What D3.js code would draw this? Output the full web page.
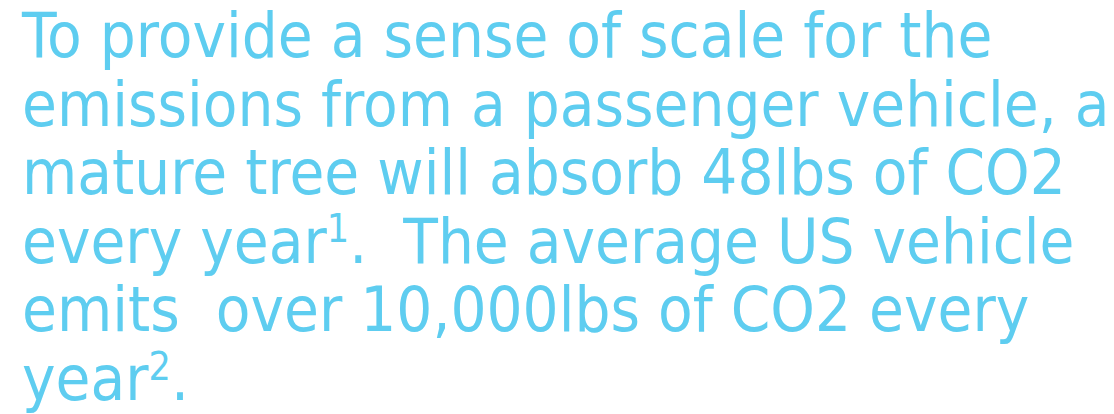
<html>
<head>
    <style>
        body { margin: 0; background: #fff; }
    </style>
</head>
<body>
    <div id="texto"></div>
    <script src="https://d3js.org/d3.v7.min.js"></script>
    <script>
        // Linhas do texto (sup = número sobrescrito)
        const lines = [
            [{t: "To provide a sense of scale for the"}],
            [{t: "emissions from a passenger vehicle, a"}],
            [{t: "mature tree will absorb 48lbs of CO2"}],
            [{t: "every year"}, {t: "1", sup: true}, {t: ".  The average US vehicle"}],
            [{t: "emits  over 10,000lbs of CO2 every"}],
            [{t: "year"}, {t: "2", sup: true}, {t: "."}]
        ];
        const lineIndex = d3.range(lines.length);

        const W = 1114, H = 414;
        const svg = d3.select("#texto").append("svg")
            .attr("width", W)
            .attr("height", H);

        // baselines
        const y = d3.scalePoint()
            .domain(lineIndex)
            .range([57, 400]);

        const fontSize = 62;
        const squeeze = 0.915;  // DejaVu é mais larga que a fonte original

        const g = svg.append("g")
            .attr("transform", `translate(22,0) scale(${squeeze},1)`);

        const txt = g.selectAll("text.linha")
            .data(lines)
            .join("text")
              .attr("class", "linha")
              .attr("x", 0)
              .attr("y", (d, i) => y(i))
              .attr("xml:space", "preserve")
              .style("white-space", "pre")
              .style("font-family", "'DejaVu Sans', sans-serif")
              .style("font-size", fontSize + "px")
              .style("fill", "#5ecdf0");

        txt.selectAll("tspan")
            .data(d => d)
            .join("tspan")
              .attr("dy", d => d.sup ? -fontSize * 0.33 : null)
              .style("font-size", d => d.sup ? (fontSize * 0.62) + "px" : null)
              .text(d => d.t)
              .each(function(d) {
                  // volta para a linha de base depois do sobrescrito
                  if (d.sup) {
                      const next = this.nextSibling;
                      if (next) d3.select(next).attr("dy", fontSize * 0.33);
                  }
              });
    </script>
</body>
</html>
